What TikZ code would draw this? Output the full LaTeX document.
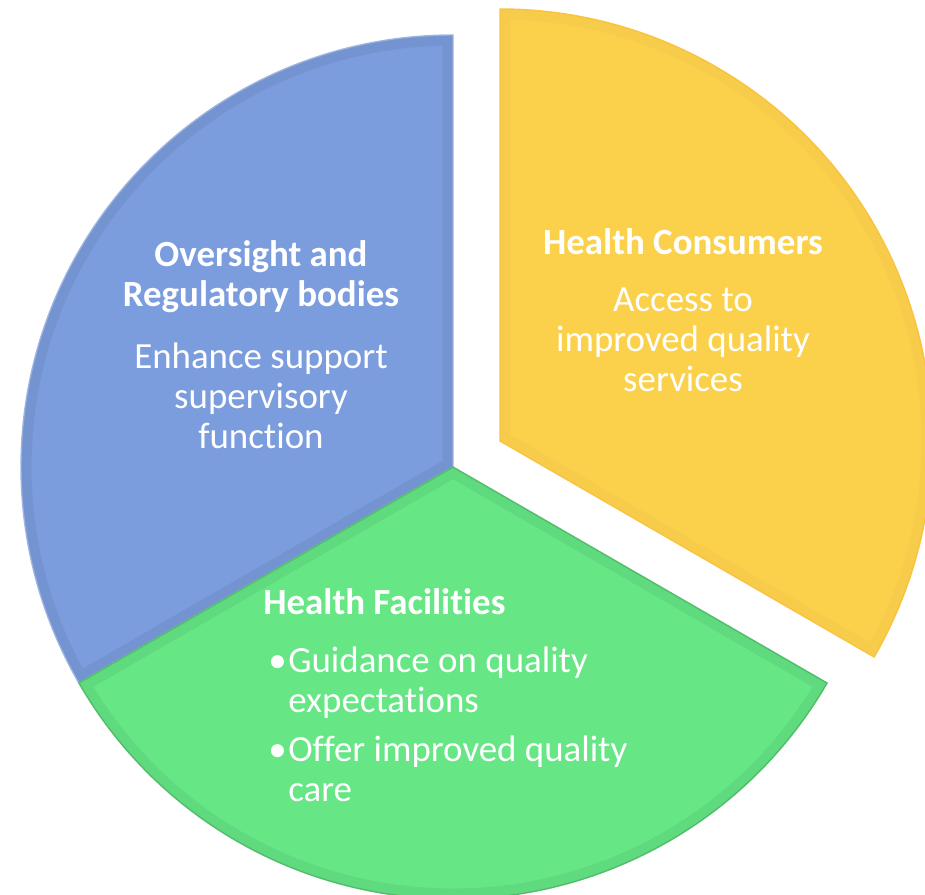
\documentclass[tikz,border=0pt]{standalone}
\usepackage{fontspec}
\setmainfont{Carlito}[Ligatures=NoCommon]
\usepackage{tikz}
\definecolor{segblue}{HTML}{7B9CDD}
\definecolor{segyellow}{HTML}{FBD14B}
\definecolor{seggreen}{HTML}{66E685}
\tikzstyle{seg} = [line width=0.8pt, line join=miter]
\tikzstyle{blueseg} = [seg, fill=segblue, draw=segblue!70!white]
\tikzstyle{yellowseg} = [seg, fill=segyellow, draw=segyellow!85!orange]
\tikzstyle{greenseg} = [seg, fill=seggreen, draw=seggreen!85!black]
\tikzstyle{rim} = [line width=12pt, draw opacity=0.05, line join=miter]
\tikzstyle{lbl} = [text=white, inner sep=0pt, font={\fontsize{21}{22.8}\selectfont}]
\tikzstyle{head} = [lbl, font={\fontsize{21}{22.8}\selectfont\bfseries}]
\newcommand{\blt}{\makebox[0.40cm][l]{\textbullet}}
% one pie slice with a soft inner rim
\newcommand{\slice}[5]{%
  \draw[#1] (#2) -- ++(#3:8.64) arc[start angle=#3, end angle=#4, radius=8.64] -- cycle;
  \begin{scope}
    \clip (#2) -- ++(#3:8.64) arc[start angle=#3, end angle=#4, radius=8.64] -- cycle;
    \draw[rim, #5] (#2) -- ++(#3:8.64) arc[start angle=#3, end angle=#4, radius=8.64] -- cycle;
  \end{scope}}

\begin{document}
\begin{tikzpicture}
  \useasboundingbox (0,0) rectangle (18.5,17.9);
  \clip (0,0) rectangle (18.5,17.9);
  \coordinate (ctr) at (9.06,8.56);
  \coordinate (ctry) at (10.0,9.08);
  % sectors
  \slice{blueseg}{ctr}{90}{210}{black}
  \slice{greenseg}{ctr}{210}{330}{black}
  \slice{yellowseg}{ctry}{-30}{90}{brown}
  % labels
  \node[head, align=center](oversight) at (5.22,12.36) {Oversight and\\Regulatory bodies};
  \node[lbl, align=center](oversightbody) at (5.22,9.99) {Enhance support\\supervisory\\function};
  \node[head, align=center](consumers) at (13.66,13.06) {Health Consumers};
  \node[lbl, align=center](consumersbody) at (13.66,11.10) {Access to\\improved quality\\services};
  \node[head, anchor=west](facilities) at (5.26,5.86) {Health Facilities};
  \node[lbl, align=left, anchor=west](facilitiesbody) at (5.36,3.42)
    {\blt Guidance on quality\\\hspace*{0.40cm}expectations\\[5pt]\blt Offer improved quality\\\hspace*{0.40cm}care};
\end{tikzpicture}
\end{document}
